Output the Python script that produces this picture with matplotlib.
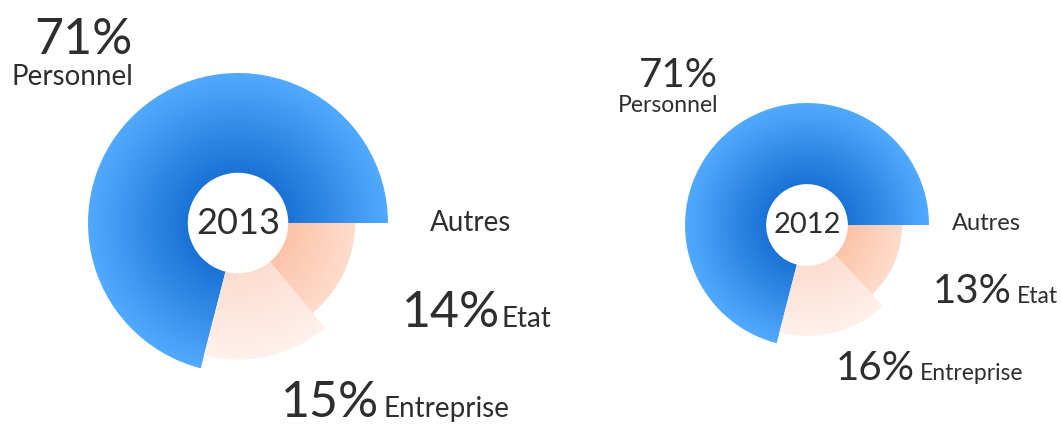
import numpy as np
import matplotlib
matplotlib.use("Agg")
import matplotlib.pyplot as plt
from matplotlib.patches import Wedge
from matplotlib.colors import to_rgb

# data
categories = ["Personnel", "Entreprise", "Etat", "Autres"]
years = ["2013", "2012"]
values_2013 = [71, 15, 14, 0]
values_2012 = [71, 16, 13, 0]

# relative outer radius of each slice (fraction of the chart radius)
slice_radius = [1.0, 0.91, 0.78, 0.78]
hole = 0.335

# gradient colours: inner -> outer
grad = [("#1a72d4", "#52aaff"),
        ("#fdddd0", "#fff1eb"),
        ("#fcc3a8", "#ffdccd"),
        ("#dddddd", "#eeeeee")]

plt.rcParams['font.family'] = ['Lato', 'DejaVu Sans']
txt = "#2e2e2e"

fig = plt.figure(figsize=(10.62, 4.26), dpi=100)
ax = fig.add_axes([0, 0, 1, 1])


def donut(cx, cy, R, values):
    start = 0.0
    total = sum(values)
    n = 400
    g = np.linspace(-R, R, n)
    xx, yy = np.meshgrid(g, g)
    rr = np.hypot(xx, yy)
    for i, v in enumerate(values):
        if v == 0:
            continue
        span = 360.0 * v / total
        r_out = R * slice_radius[i]
        r_in = R * hole
        c0 = np.array(to_rgb(grad[i][0]))
        c1 = np.array(to_rgb(grad[i][1]))
        t = np.clip((rr - r_in) / (r_out - r_in), 0, 1)[..., None]
        img = c0 + (c1 - c0) * t
        w = Wedge((cx, cy), r_out, start, start + span, width=r_out - r_in,
                  facecolor="none", edgecolor="none")
        ax.add_patch(w)
        im = ax.imshow(img, extent=[cx - R, cx + R, cy - R, cy + R],
                       origin="lower", interpolation="bilinear")
        im.set_clip_path(w)
        start += span


def label(x, y, s, size, **kw):
    ax.text(x, 426 - y, s, fontsize=size, color=txt, **kw)


# 2013 (left, larger)
cx, cy, R = 238, 426 - 223, 150
donut(cx, cy, R, values_2013)
ax.text(cx, cy, years[0], fontsize=26, color=txt, ha="center", va="center")
label(133, 54, f"{values_2013[0]}%", 36, ha="right", va="baseline")
label(133, 85, categories[0], 20, ha="right", va="baseline")
label(430, 223, categories[3], 20, ha="left", va="center")
label(500, 327, f"{values_2013[2]}%", 36, ha="right", va="baseline")
label(502, 327, categories[2], 20, ha="left", va="baseline")
label(379, 417, f"{values_2013[1]}%", 36, ha="right", va="baseline")
label(383, 417, categories[1], 20, ha="left", va="baseline")

# 2012 (right, smaller)
cx, cy, R = 807, 426 - 225, 122
donut(cx, cy, R, values_2012)
ax.text(cx, cy, years[1], fontsize=21, color=txt, ha="center", va="center")
label(718, 87, f"{values_2012[0]}%", 29, ha="right", va="baseline")
label(718, 112, categories[0], 16.5, ha="right", va="baseline")
label(952, 224, categories[3], 17, ha="left", va="center")
label(1012, 303, f"{values_2012[2]}%", 29, ha="right", va="baseline")
label(1017, 303, categories[2], 16.5, ha="left", va="baseline")
label(915, 380, f"{values_2012[1]}%", 29, ha="right", va="baseline")
label(920, 380, categories[1], 16.5, ha="left", va="baseline")

ax.set_xlim(0, 1062)
ax.set_ylim(0, 426)
ax.set_aspect("equal")
ax.axis("off")

fig.savefig("out.png", dpi=100, facecolor="white")
